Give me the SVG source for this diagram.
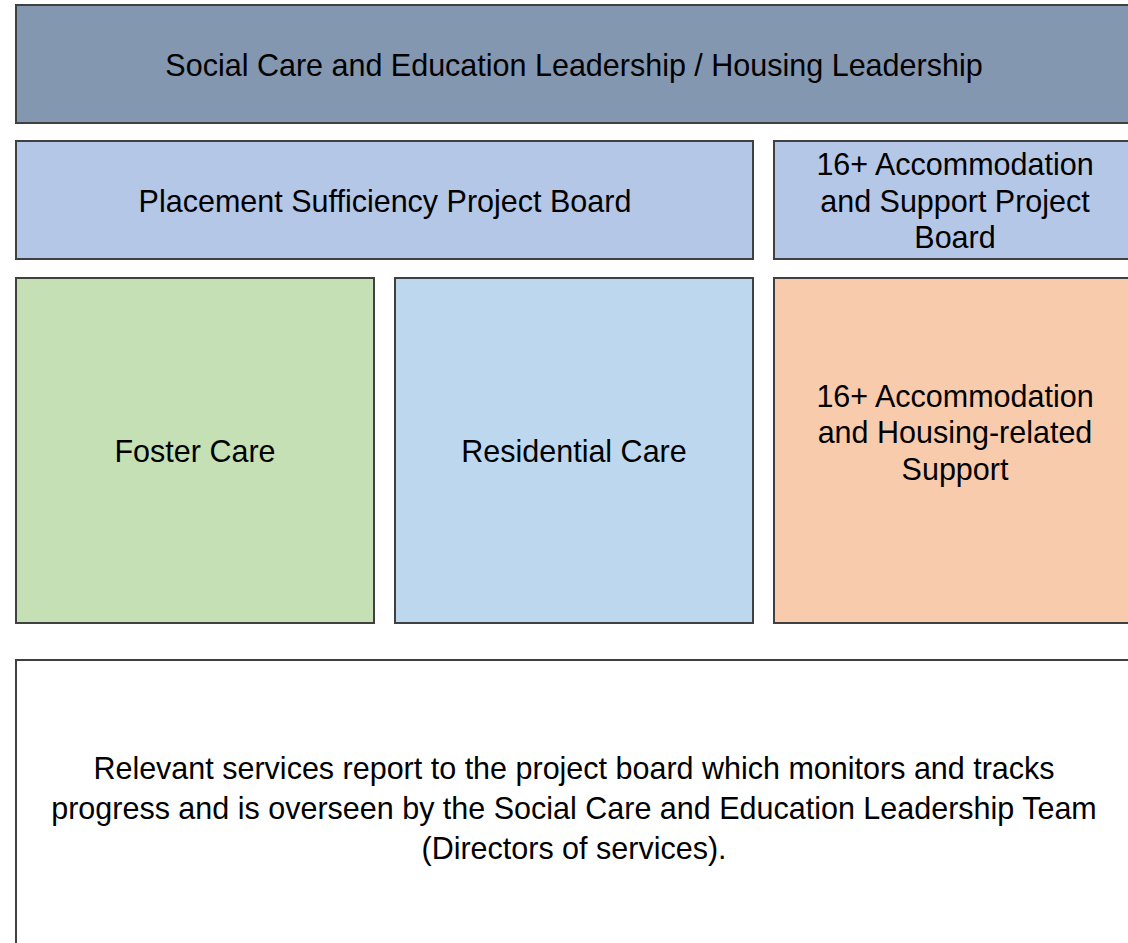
<svg xmlns="http://www.w3.org/2000/svg" width="1128" height="943" viewBox="0 0 1128 943">
  <style>
    .box { stroke: #404040; stroke-width: 2; }
    .lbl { font-family: "Liberation Sans", Arial, sans-serif; font-size: 30.5px; fill: #000; text-anchor: middle; }
  </style>
  <rect x="0" y="0" width="1128" height="943" fill="#ffffff"/>

  <g id="leadership">
    <rect class="box" x="16" y="5" width="1120" height="118" fill="#8497b0"/>
    <text class="lbl" x="574" y="76">Social Care and Education Leadership / Housing Leadership</text>
  </g>

  <g id="placement-board">
    <rect class="box" x="16" y="141" width="737" height="118" fill="#b4c7e7"/>
    <text class="lbl" x="385" y="212">Placement Sufficiency Project Board</text>
  </g>

  <g id="accommodation-board">
    <rect class="box" x="774" y="141" width="362" height="118" fill="#b4c7e7"/>
    <text class="lbl" x="955" y="175">16+ Accommodation</text>
    <text class="lbl" x="955" y="212">and Support Project</text>
    <text class="lbl" x="955" y="248">Board</text>
  </g>

  <g id="foster-care">
    <rect class="box" x="16" y="278" width="358" height="345" fill="#c5e0b4"/>
    <text class="lbl" x="195" y="462">Foster Care</text>
  </g>

  <g id="residential-care">
    <rect class="box" x="395" y="278" width="358" height="345" fill="#bdd7ee"/>
    <text class="lbl" x="574" y="462">Residential Care</text>
  </g>

  <g id="housing-support">
    <rect class="box" x="774" y="278" width="362" height="345" fill="#f8cbad"/>
    <text class="lbl" x="955" y="407">16+ Accommodation</text>
    <text class="lbl" x="955" y="443">and Housing-related</text>
    <text class="lbl" x="955" y="480">Support</text>
  </g>

  <g id="reporting-note">
    <rect class="box" x="16" y="660" width="1120" height="300" fill="#ffffff"/>
    <text class="lbl" x="574" y="779">Relevant services report to the project board which monitors and tracks</text>
    <text class="lbl" x="574" y="819">progress and is overseen by the Social Care and Education Leadership Team</text>
    <text class="lbl" x="574" y="859">(Directors of services).</text>
  </g>

  <g id="connectors"></g>
</svg>
